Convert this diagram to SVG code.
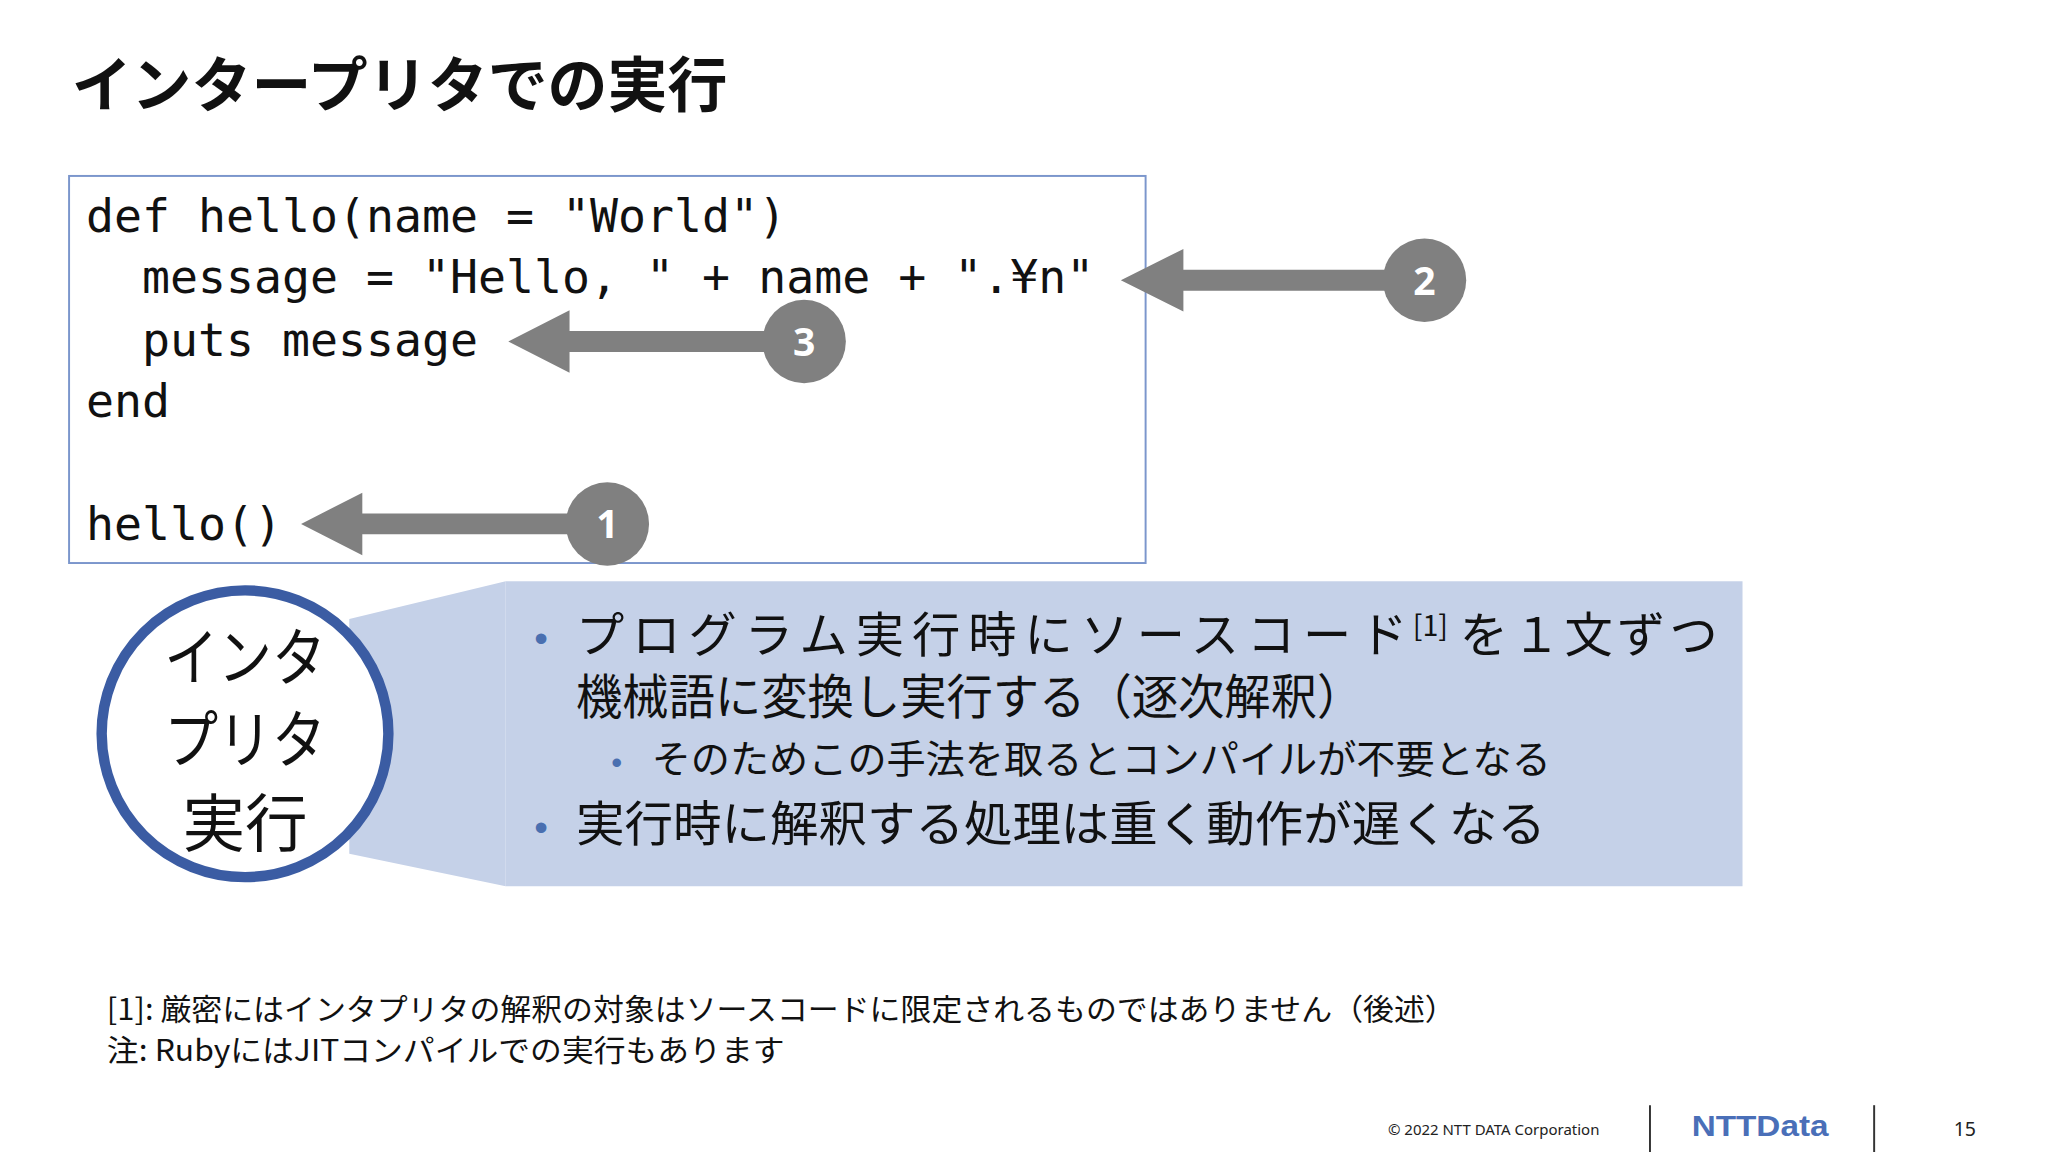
<svg xmlns="http://www.w3.org/2000/svg" width="2048" height="1152" viewBox="0 0 2048 1152">
<style>
.jp{font-family:"Noto Sans CJK JP","Noto Sans",sans-serif;fill:#111}
.code{font-family:"DejaVu Sans Mono","Liberation Mono",monospace;font-size:35.7px;fill:#111}
.arr{fill:#808080}
.num{font-family:"Noto Sans","Liberation Sans",sans-serif;font-weight:bold;font-size:30px;fill:#fff;text-anchor:middle}
.bul{fill:#4a6fb0}
</style>
<rect width="2048" height="1152" fill="#fff"/>
<g transform="scale(1.3033)">
<text id="title" class="jp" x="55" y="82" font-size="46" font-weight="bold">インタープリタでの実行</text>
<g id="codebox">
<rect x="53" y="135" width="826" height="297" fill="#fff" stroke="#7b96cc" stroke-width="1.5"/>
<text class="code" x="66" y="178" xml:space="preserve">def hello(name = "World")</text>
<text class="code" x="66" y="225" xml:space="preserve">  message = "Hello, " + name + ".¥n"</text>
<text class="code" x="66" y="273" xml:space="preserve">  puts message</text>
<text class="code" x="66" y="320">end</text>
<text class="code" x="66" y="414">hello()</text>
</g>
<g id="connectors">
<polygon class="arr" points="860,215 908,191 908,207 1093,207 1093,223 908,223 908,239"/>
<polygon class="arr" points="390,262 437,238 437,254 617,254 617,270 437,270 437,286"/>
<polygon class="arr" points="231,402 278,378 278,394 466,394 466,410 278,410 278,426"/>
</g>
<g id="n2"><circle cx="1093" cy="215" r="32" fill="#808080"/><text class="num" x="1093" y="226">2</text></g>
<g id="n3"><circle cx="617" cy="262" r="32" fill="#808080"/><text class="num" x="617" y="273">3</text></g>
<g id="n1"><circle cx="466" cy="402" r="32" fill="#808080"/><text class="num" x="466" y="413">1</text></g>
<g id="callout">
<polygon points="268,475 388,446 388,680 268,655" fill="#c5d1e8"/>
<rect x="388" y="446" width="949" height="234" fill="#c5d1e8"/>
<text class="bul" x="410" y="500" font-size="30" font-family="Liberation Sans,sans-serif">•</text>
<text class="jp" x="442" y="500" font-size="37" textLength="638" lengthAdjust="spacing">プログラム実行時にソースコード</text>
<text class="jp" x="1084" y="488" font-size="22">[1]</text>
<text class="jp" x="1120" y="500" font-size="37" textLength="198" lengthAdjust="spacing">を１文ずつ</text>
<text class="jp" x="442" y="548" font-size="37" textLength="604" lengthAdjust="spacingAndGlyphs">機械語に変換し実行する（逐次解釈）</text>
<text class="bul" x="469" y="593" font-size="24" font-family="Liberation Sans,sans-serif">•</text>
<text class="jp" x="500" y="593" font-size="30" textLength="690" lengthAdjust="spacingAndGlyphs">そのためこの手法を取るとコンパイルが不要となる</text>
<text class="bul" x="410" y="645" font-size="30" font-family="Liberation Sans,sans-serif">•</text>
<text class="jp" x="442" y="645" font-size="37" textLength="744" lengthAdjust="spacingAndGlyphs">実行時に解釈する処理は重く動作が遅くなる</text>
</g>
<g id="circle">
<circle cx="188" cy="563" r="110" fill="#fff" stroke="#3b5ca3" stroke-width="8"/>
<text class="jp" x="188" y="522" font-size="48" text-anchor="middle" textLength="124" lengthAdjust="spacingAndGlyphs">インタ</text>
<text class="jp" x="188" y="585" font-size="48" text-anchor="middle" textLength="124" lengthAdjust="spacingAndGlyphs">プリタ</text>
<text class="jp" x="188" y="649" font-size="48" text-anchor="middle">実行</text>
</g>
<g id="notes">
<text class="jp" x="82" y="783" font-size="23" textLength="1035" lengthAdjust="spacingAndGlyphs">[1]: 厳密にはインタプリタの解釈の対象はソースコードに限定されるものではありません（後述）</text>
<text class="jp" x="82" y="814" font-size="23" textLength="520" lengthAdjust="spacingAndGlyphs">注: RubyにはJITコンパイルでの実行もあります</text>
</g>
<g id="footer">
<text x="1065" y="871" font-size="11.5" font-family="Noto Sans,sans-serif" fill="#222">© 2022 NTT DATA Corporation</text>
<line x1="1266" y1="848" x2="1266" y2="884" stroke="#333" stroke-width="1.5"/>
<line x1="1438" y1="848" x2="1438" y2="884" stroke="#333" stroke-width="1.5"/>
<text x="1298" y="872" font-size="22" font-weight="bold" font-family="Liberation Sans,sans-serif" fill="#4a6fb8" textLength="105" lengthAdjust="spacingAndGlyphs">NTTData</text>
<text x="1499" y="872" font-size="15" font-family="Noto Sans,sans-serif" fill="#222">15</text>
</g>
</g>
</svg>
